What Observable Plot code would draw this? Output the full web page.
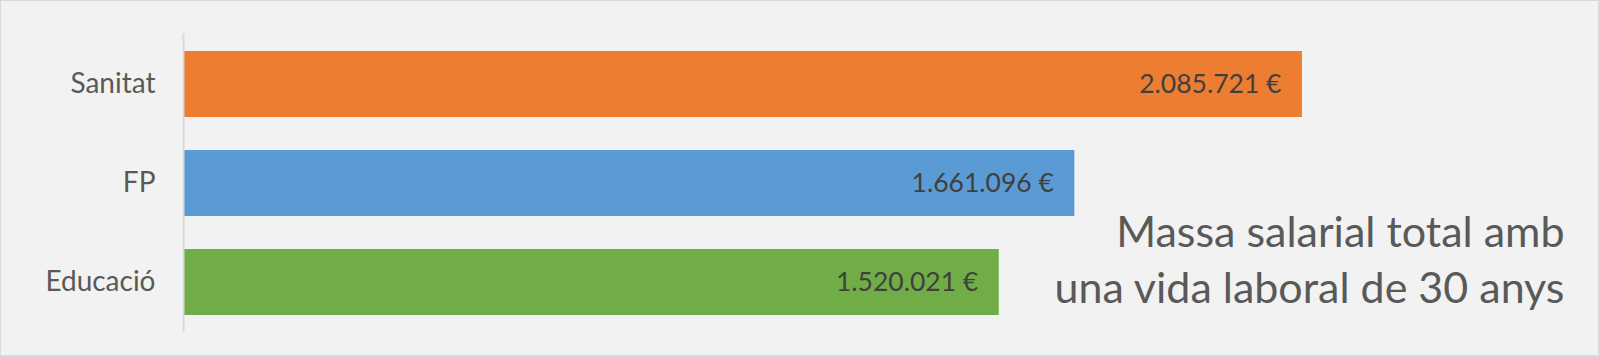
<!DOCTYPE html>
<html>
<head>
<meta charset="utf-8">
<script src="https://cdn.jsdelivr.net/npm/d3@7"></script>
<script src="https://cdn.jsdelivr.net/npm/@observablehq/plot@0.6"></script>
<style>
  html, body { margin: 0; padding: 0; background: #f2f2f2; }
  #wrap {
    width: 1600px; height: 357px; box-sizing: border-box;
    border-style: solid; border-color: #d9d9d9; border-width: 1px 2px 2px 1px;
    background: #f2f2f2; overflow: hidden;
  }
  #wrap svg { display: block; }
</style>
</head>
<body>
<div id="wrap"></div>
<script>
const categories = ["Sanitat", "FP", "Educació"];
const values = [2085721, 1661096, 1520021];
const colors = ["#ED7D31", "#5B9BD5", "#70AD47"];
const titleLines = ["Massa salarial total amb", "una vida laboral de 30 anys"];
const xMax = 2500000;

const data = categories.map((c, i) => ({cat: c, value: values[i], color: colors[i]}));
const fmt = d3.formatLocale({decimal: ",", thousands: ".", grouping: [3], currency: ["", " €"]}).format("$,d");

const chart = Plot.plot({
  width: 1597,
  height: 354,
  marginLeft: 183,
  marginRight: 74,
  marginTop: 32,
  marginBottom: 23,
  style: {background: "#f2f2f2", fontFamily: "Lato, sans-serif"},
  x: {domain: [0, xMax], axis: null},
  y: {domain: categories, paddingInner: 1/3, paddingOuter: 1/6, label: null},
  marks: [
    Plot.barX(data, {y: "cat", x: "value", fill: "color"}),
    Plot.ruleX([0], {stroke: "#d9d9d9", strokeWidth: 2, dx: -1}),
    Plot.axisY({tickSize: 0, tickPadding: 29, fontSize: 28, color: "#595959", label: null}),
    Plot.text(data, {y: "cat", x: "value", text: d => fmt(d.value), textAnchor: "end", dx: -21, fontSize: 26.5, fill: "#404040"}),
    Plot.text([titleLines.join("\n")], {frameAnchor: "bottom-right", dx: 40, dy: -30, fontSize: 43, lineHeight: 1.28, fill: "#595959", lineAnchor: "bottom"})
  ]
});
document.getElementById("wrap").appendChild(chart);
</script>
</body>
</html>
